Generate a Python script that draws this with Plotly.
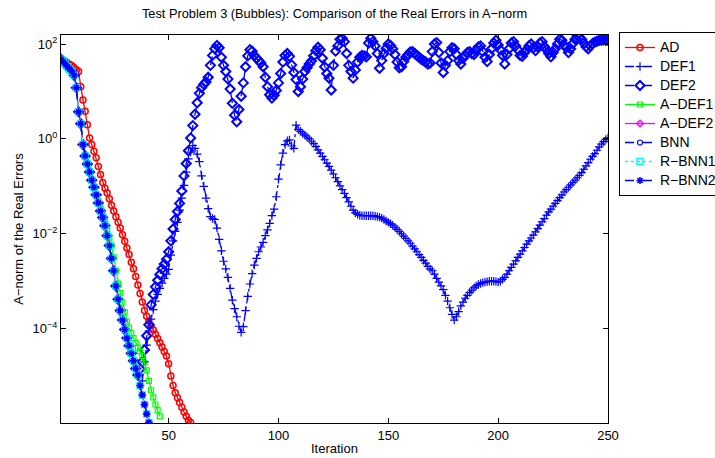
import plotly.graph_objects as go

# ---------------- data (log10 of the A-norm errors) ----------------
iter_start = 1

ad_log10 = [1.68, 1.66, 1.63, 1.60, 1.57, 1.54, 1.50, 1.46, 1.42, 1.10,
            0.82, 0.58, 0.30, 0.02, -0.12, -0.26, -0.40, -0.58, -0.75, -0.92,
            -1.04, -1.14, -1.26, -1.40, -1.52, -1.64, -1.76, -1.88, -2.02, -2.16,
            -2.30, -2.44, -2.60, -2.74, -2.90, -3.08, -3.26, -3.44, -3.62, -3.74,
            -3.84, -3.94, -4.03, -4.12, -4.21, -4.30, -4.39, -4.48, -4.58, -4.74,
            -5.00, -5.20, -5.35, -5.46, -5.56, -5.66, -5.76, -5.85, -5.93, -5.98]

cluster_log10 = [1.68, 1.63, 1.58, 1.52, 1.47, 1.42, 1.34, 1.08, 0.57, 0.32,
                 -0.12, -0.36, -0.53, -0.70, -0.87, -1.02, -1.18, -1.35, -1.52, -1.66,
                 -1.83, -2.04, -2.25, -2.52, -2.78, -3.10, -3.38, -3.62, -3.82, -4.02,
                 -4.20, -4.36, -4.52, -4.68, -4.84, -4.98, -5.20, -5.40, -5.60, -5.80,
                 -5.98]

adef1_log10 = [1.68, 1.63, 1.58, 1.52, 1.47, 1.42, 1.34, 1.08, 0.57, 0.32,
               -0.12, -0.36, -0.53, -0.70, -0.87, -1.02, -1.18, -1.30, -1.45, -1.58,
               -1.72, -1.90, -2.08, -2.25, -2.50, -2.78, -3.05, -3.25, -3.45, -3.65,
               -3.85, -3.98, -4.10, -4.20, -4.30, -4.40, -4.48, -4.58, -4.72, -4.88,
               -5.10, -5.30, -5.45, -5.60, -5.72, -5.85]

adef2_log10 = list(cluster_log10)
bnn_log10 = list(cluster_log10)
rbnn1_log10 = list(cluster_log10)
rbnn2_log10 = list(cluster_log10)

def1_tail_log10 = [
    -5.10, -4.70, -4.35, -4.05, -3.80, -3.60, -3.42, -3.28, -3.15, -3.04,   # 38-47
    -2.94, -2.85, -2.75, -2.45, -2.15, -1.95, -1.76, -1.50, -1.25, -0.98,   # 48-57
    -0.70, -0.42, -0.28, -0.14, -0.20, -0.32, -0.48, -0.78, -1.00, -1.25,   # 58-67
    -1.47, -1.64, -1.68, -1.70, -1.88, -2.12, -2.36, -2.58, -2.74, -2.92,   # 68-77
    -3.15, -3.40, -3.58, -3.75, -3.95, -4.08, -3.96, -3.62, -3.32, -3.06,   # 78-87
    -2.84, -2.66, -2.52, -2.38, -2.28, -2.18, -2.04, -1.92, -1.78, -1.62,   # 88-97
    -1.48, -1.22, -0.85, -0.55, -0.30, -0.12, -0.04, -0.02, -0.15, -0.20,   # 98-107
    0.29, 0.20, 0.16, 0.12, 0.08, 0.04, 0.00, -0.05, -0.10, -0.16,          # 108-117
    -0.23, -0.30, -0.37, -0.44, -0.51, -0.58, -0.66, -0.74, -0.82, -0.90,   # 118-127
    -0.99, -1.07, -1.15, -1.24, -1.33, -1.42, -1.50, -1.56, -1.59, -1.61,   # 128-137
    -1.62, -1.62, -1.62, -1.62, -1.62, -1.62, -1.63, -1.64, -1.65, -1.67,   # 138-147
    -1.70, -1.73, -1.76, -1.79, -1.82, -1.86, -1.91, -1.95, -2.00, -2.05,   # 148-157
    -2.10, -2.15, -2.20, -2.26, -2.32, -2.38, -2.44, -2.50, -2.56, -2.62,   # 158-167
    -2.69, -2.74, -2.78, -2.85, -2.94, -3.02, -3.10, -3.18, -3.30, -3.42,   # 168-177
    -3.56, -3.70, -3.82, -3.75, -3.64, -3.52, -3.44, -3.36, -3.30, -3.24,   # 178-187
    -3.19, -3.14, -3.10, -3.07, -3.05, -3.03, -3.02, -3.01, -3.00, -3.00,   # 188-197
    -3.00, -3.01, -3.02, -3.00, -2.96, -2.92, -2.85, -2.78, -2.71, -2.64,   # 198-207
    -2.57, -2.50, -2.43, -2.36, -2.29, -2.22, -2.15, -2.09, -2.03, -1.96,   # 208-217
    -1.89, -1.82, -1.75, -1.68, -1.61, -1.54, -1.48, -1.42, -1.36, -1.30,   # 218-227
    -1.24, -1.18, -1.12, -1.07, -1.02, -0.97, -0.92, -0.87, -0.82, -0.77,   # 228-237
    -0.71, -0.64, -0.57, -0.50, -0.43, -0.37, -0.31, -0.24, -0.17, -0.11,   # 238-247
    -0.06, -0.01, 0.02]                                                     # 248-250

def2_tail_log10 = [
    -4.85, -4.70, -4.45, -4.15, -3.92, -3.50, -3.28, -3.12, -2.98, -2.86,   # 37-46
    -2.74, -2.64, -2.54, -2.38, -2.15, -1.90, -1.70, -1.53, -1.36, -1.10,   # 47-56
    -0.78, -0.52, -0.25, 0.02, 0.28, 0.52, 0.76, 0.96, 1.08, 1.15,          # 57-66
    1.20, 1.30, 1.55, 1.76, 1.90, 1.97, 1.92, 1.72, 1.55, 1.42,             # 67-76
    1.26, 1.05, 0.75, 0.50, 0.36, 0.62, 0.90, 1.18, 1.52, 1.75,             # 77-86
    1.88, 1.85, 1.76, 1.70, 1.65, 1.60, 1.52, 1.30, 1.10, 0.93,             # 87-96
    0.86, 0.92, 1.02, 1.18, 1.38, 1.62, 1.76, 1.80, 1.74, 1.56,             # 97-106
    1.40, 1.25, 1.00, 1.10, 1.26, 1.42, 1.50, 1.58, 1.64, 1.75,             # 107-116
    1.86, 1.93, 1.88, 1.70, 1.52, 1.38, 1.28, 1.03, 1.55, 1.85,             # 117-126
    1.96, 2.10, 2.12, 2.05, 1.80, 1.55, 1.42, 1.28, 1.45, 1.62,             # 127-136
    1.72, 1.76, 1.75, 1.73, 2.02, 2.12, 2.05, 1.96, 1.80, 1.49,             # 137-146
    1.65, 1.80, 1.91, 2.00, 1.97, 1.90, 1.78, 1.62, 1.50, 1.52,             # 147-156
    1.63, 1.72, 1.78, 1.83, 1.84, 1.80, 1.76, 1.72, 1.68, 1.65,             # 157-166
    1.62, 1.58, 1.60, 1.84, 2.00, 2.03, 1.82, 1.60, 1.40, 1.55,             # 167-176
    1.65, 1.84, 1.92, 1.90, 1.78, 1.65, 1.58, 1.70, 1.76, 1.82,             # 177-186
    1.84, 1.80, 1.78, 1.88, 1.94, 1.96, 1.84, 1.72, 1.63, 1.78,             # 187-196
    1.90, 2.02, 2.08, 1.98, 1.88, 1.76, 1.58, 1.78, 1.90, 2.02,             # 197-206
    2.05, 1.96, 1.88, 1.76, 1.74, 1.82, 1.88, 1.96, 2.00, 1.92,             # 207-216
    1.86, 1.94, 2.02, 2.05, 1.95, 1.88, 1.80, 1.73, 1.82, 1.90,             # 217-226
    2.00, 2.10, 2.08, 1.98, 1.92, 1.82, 1.90, 2.01, 2.10, 2.18,             # 227-236
    2.14, 2.10, 2.02, 1.94, 1.90, 1.96, 2.01, 2.04, 2.06, 2.08,             # 237-246
    2.08, 2.09, 2.08, 2.08]                                                 # 247-250

def1_log10 = cluster_log10[:37] + def1_tail_log10
def2_log10 = cluster_log10[:36] + def2_tail_log10

x_ticks = [50, 100, 150, 200, 250]
y_ticks = [1e-4, 1e-2, 1e0, 1e2]
y_tick_text = ["10<sup>\u22124</sup>", "10<sup>\u22122</sup>", "10<sup>0</sup>", "10<sup>2</sup>"]

# ---------------- styles ----------------
series = [
    ("AD", ad_log10, "#ff0000", "solid", "circle-open", 6, 1.5),
    ("DEF1", def1_log10, "#0000ff", "dashdot", "cross-thin-open", 6, 1.2),
    ("DEF2", def2_log10, "#0000ff", "dash", "diamond-open", 7, 2.0),
    ("A\u2212DEF1", adef1_log10, "#00ff00", "solid", "square-open", 5, 1.2),
    ("A\u2212DEF2", adef2_log10, "#ff00ff", "solid", "diamond-open", 5, 1.5),
    ("BNN", bnn_log10, "#0000ff", "dash", "circle-open", 5, 1.2),
    ("R\u2212BNN1", rbnn1_log10, "#00ffff", "dot", "square-open", 6, 1.5),
    ("R\u2212BNN2", rbnn2_log10, "#0000ff", "dash", "asterisk-open", 6, 1.5),
]

fig = go.Figure()
for name, vals, color, dash, sym, msize, mlw in series:
    xs = list(range(iter_start, iter_start + len(vals)))
    ys = [10 ** v for v in vals]
    fig.add_trace(go.Scatter(
        x=xs, y=ys, name="<span style='font-size:14px'>" + name + "</span>",
        mode="lines+markers",
        line=dict(color=color, dash=dash, width=1.3),
        marker=dict(symbol=sym, size=msize, color=color, line=dict(color=color, width=mlw)),
    ))

font_family = "Liberation Sans, Arial, Helvetica, sans-serif"

fig.update_layout(
    width=715, height=458,
    margin=dict(l=61, r=107, t=35, b=35, autoexpand=False),
    paper_bgcolor="white", plot_bgcolor="white",
    font=dict(family=font_family, size=13, color="black"),
    title=dict(text="Test Problem 3 (Bubbles): Comparison of the Real Errors in A\u2212norm",
               x=(61 + 608) / 2 / 715, xanchor="center", y=1 - 14 / 458, yanchor="middle",
               font=dict(size=12.8, color="black")),
    showlegend=True,
    legend=dict(x=(619 - 61) / 547, xanchor="left", y=1.0 + 3 / 388, yanchor="top",
                bgcolor="white", bordercolor="black", borderwidth=1,
                font=dict(size=12, color="black"), tracegroupgap=0),
)

fig.update_xaxes(
    range=[1, 250], tickvals=x_ticks, ticks="inside", ticklen=5, tickcolor="black",
    showline=True, linecolor="black", linewidth=1, mirror="ticks", showgrid=False,
    zeroline=False, tickfont=dict(size=13),
    title=dict(text="Iteration", standoff=2, font=dict(size=13)),
    automargin=False,
)
fig.update_yaxes(
    type="log", range=[-5.99, 2.19], tickvals=y_ticks, ticktext=y_tick_text,
    ticks="inside", ticklen=5, tickcolor="black",
    showline=True, linecolor="black", linewidth=1, mirror="ticks", showgrid=False,
    zeroline=False, tickfont=dict(size=13),
    title=dict(text="A\u2212norm of the Real Errors", standoff=6, font=dict(size=13)),
    automargin=False,
)

fig.write_html("out.html")
